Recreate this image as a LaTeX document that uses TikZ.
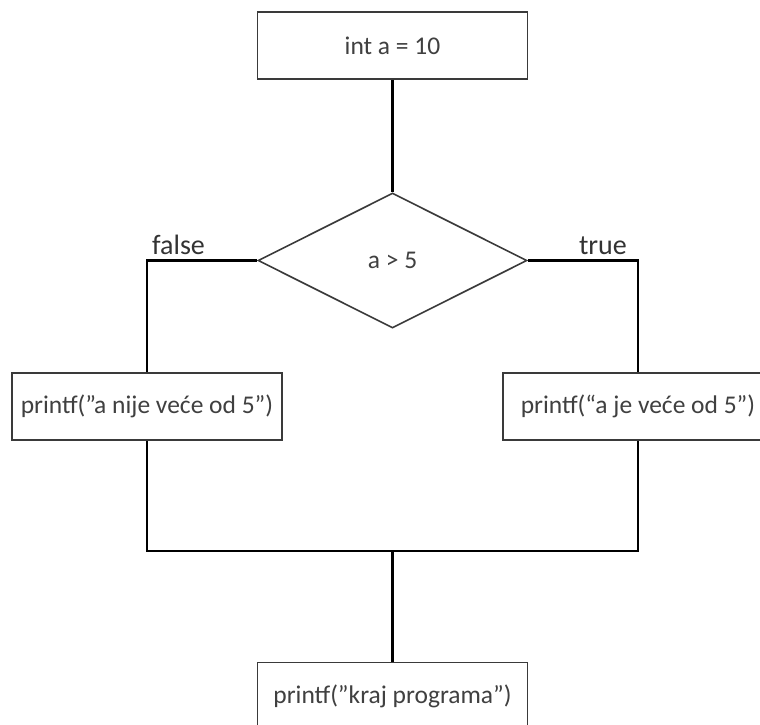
\documentclass[tikz,border=0pt]{standalone}
\usepackage{fontspec}
\setmainfont{Carlito}
\usetikzlibrary{shapes.geometric}
\definecolor{txtgray}{HTML}{404040}
\definecolor{edgegray}{HTML}{3A3A3A}
\tikzset{
  box/.style={draw=edgegray, line width=1.6pt, rectangle, minimum width=270pt, minimum height=67pt, inner sep=0pt, text=txtgray, font=\fontsize{25.5}{29}\selectfont},
  cond/.style={draw=edgegray, line width=1.6pt, diamond, minimum width=269pt, minimum height=135pt, inner sep=0pt, text=txtgray, font=\fontsize{25.5}{29}\selectfont},
  conn/.style={draw=black, line width=2.2pt},
  lbl/.style={inner sep=0pt, text=black!80, font=\fontsize{28}{32}\selectfont}
}
\begin{document}
\begin{tikzpicture}[x=1pt, y=-1pt]
\clip (0,0) rectangle (760,724);
\fill[white] (0,0) rectangle (760,724);
\node[box] (top) at (392.5,45.5) {int a = 10};
\node[cond] (dec) at (392.5,260.5) {a > 5};
\node[box] (lbox) at (147,406.5) {printf(”a nije veće od 5”)};
\node[box] (rbox) at (638,406.5) {printf(“a je veće od 5”)};
\node[box] (bot) at (392.5,696) {printf(”kraj programa”)};
\coordinate (j) at (392.5,551);
\draw[conn] (top.south) -- (dec.north);
\draw[conn] (dec.west) -| (lbox.north);
\draw[conn] (dec.east) -| (rbox.north);
\draw[conn] (lbox.south) |- (j) -| (rbox.south);
\draw[conn] (j) -- (bot.north);
\node[lbl, anchor=base west] (lf) at ([xshift=5pt,yshift=6pt]lbox.north |- dec.west) {false};
\node[lbl, anchor=base east] (lt) at ([xshift=-11pt,yshift=6pt]rbox.north |- dec.east) {true};
\end{tikzpicture}
\end{document}
